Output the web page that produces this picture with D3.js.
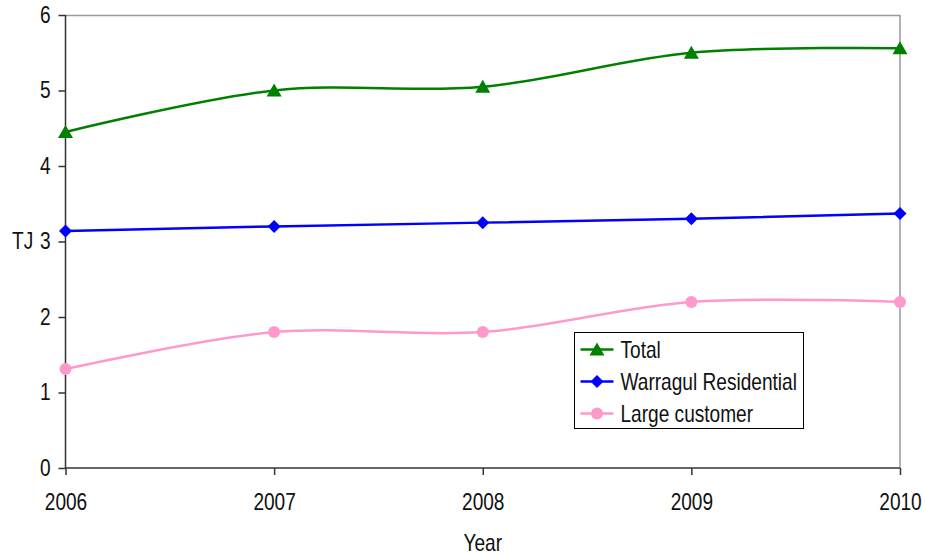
<!DOCTYPE html>
<html>
<head>
<meta charset="utf-8">
<script src="https://cdn.jsdelivr.net/npm/d3@7"></script>
<style>
  body { margin: 0; background: #fff; }
  svg text { font-family: "Liberation Sans", Arial, sans-serif; font-size: 23px; fill: #111; }
</style>
</head>
<body>
<div id="chart"></div>
<script>
// chart data
const years = ['2006', '2007', '2008', '2009', '2010']
const total = [4.45, 5.0, 5.05, 5.5, 5.56]
const residential = [3.14, 3.2, 3.25, 3.3, 3.37]
const largeCustomer = [1.31, 1.8, 1.8, 2.2, 2.2]
const yTicks = [0, 1, 2, 3, 4, 5, 6]

const series = [
  { name: 'Total', values: total, color: '#008000', marker: 'triangle', smooth: true },
  { name: 'Warragul Residential', values: residential, color: '#0000ff', marker: 'diamond', smooth: false },
  { name: 'Large customer', values: largeCustomer, color: '#ff99cc', marker: 'circle', smooth: true }
]

// the original uses a narrow font, so squeeze the text horizontally
const squeeze = 0.83

const width = 925
const height = 557
const margin = { top: 15, right: 25, bottom: 89, left: 65.5 }
const innerWidth = width - margin.left - margin.right
const innerHeight = height - margin.top - margin.bottom

const svg = d3.select('#chart')
  .append('svg')
  .attr('width', width)
  .attr('height', height)

const chart = svg.append('g')
  .attr('transform', `translate(${margin.left},${margin.top})`)

const xScale = d3.scalePoint()
  .domain(years)
  .range([0, innerWidth])

const yScale = d3.scaleLinear()
  .domain([0, 6])
  .range([innerHeight, 0])

// top and right frame lines (gray)
chart.append('path')
  .attr('d', `M0,0.5H${innerWidth}V${innerHeight}`)
  .attr('fill', 'none')
  .attr('stroke', '#999')
  .attr('stroke-width', 1.5)

// axes
const xAxis = d3.axisBottom(xScale).tickSize(7).tickPadding(19)
const yAxis = d3.axisLeft(yScale).tickValues(yTicks).tickSize(7).tickPadding(8).tickFormat(d3.format('d'))

const gx = chart.append('g')
  .attr('transform', `translate(0,${innerHeight})`)
  .call(xAxis)
gx.select('.domain').attr('d', `M0,0H${innerWidth}`)

const gy = chart.append('g').call(yAxis)
gy.select('.domain').attr('d', `M0,${innerHeight}V0`)

chart.selectAll('.domain, .tick line')
  .attr('stroke', '#333')
  .attr('stroke-width', 1.5)
chart.selectAll('.tick text')
  .style('font-size', '23px')
  .attr('fill', '#111')
  .attr('x', function () { return +d3.select(this).attr('x') / squeeze || 0 })
  .attr('transform', `scale(${squeeze},1)`)

// axis titles
svg.append('text')
  .attr('transform', `translate(${margin.left + innerWidth / 2},551) scale(${squeeze},1)`)
  .attr('text-anchor', 'middle')
  .text('Year')

svg.append('text')
  .attr('transform', `translate(12,${margin.top + yScale(3)}) scale(${squeeze},1)`)
  .attr('dy', '0.32em')
  .text('TJ')

// marker shapes
function drawMarker(g, type, color, x, y) {
  if (type === 'triangle') {
    g.append('path')
      .attr('d', `M${x},${y - 7}L${x + 7.5},${y + 6}L${x - 7.5},${y + 6}Z`)
      .attr('fill', color)
  } else if (type === 'diamond') {
    g.append('path')
      .attr('d', `M${x},${y - 6.5}L${x + 6.5},${y}L${x},${y + 6.5}L${x - 6.5},${y}Z`)
      .attr('fill', color)
  } else {
    g.append('circle')
      .attr('cx', x)
      .attr('cy', y)
      .attr('r', 6)
      .attr('fill', color)
  }
}

// lines
for (let s of series) {
  const line = d3.line()
    .x((d, i) => xScale(years[i]))
    .y(d => yScale(d))
    .curve(s.smooth ? d3.curveCatmullRom.alpha(0.5) : d3.curveLinear)

  chart.append('path')
    .datum(s.values)
    .attr('d', line)
    .attr('fill', 'none')
    .attr('stroke', s.color)
    .attr('stroke-width', 2.5)

  const mg = chart.append('g')
  s.values.forEach((v, i) => drawMarker(mg, s.marker, s.color, xScale(years[i]), yScale(v)))
}

// legend
const legend = svg.append('g').attr('transform', 'translate(574.5,332.5)')
legend.append('rect')
  .attr('width', 229)
  .attr('height', 96)
  .attr('fill', '#fff')
  .attr('stroke', '#000')
  .attr('stroke-width', 1)

series.forEach((s, i) => {
  const y = 17 + i * 32
  legend.append('line')
    .attr('x1', 6).attr('x2', 39)
    .attr('y1', y).attr('y2', y)
    .attr('stroke', s.color)
    .attr('stroke-width', 2.5)
  drawMarker(legend, s.marker, s.color, 22.5, y)
  legend.append('text')
    .attr('transform', `translate(46,${y}) scale(${squeeze},1)`)
    .attr('dy', '0.36em')
    .text(s.name)
})
</script>
</body>
</html>
